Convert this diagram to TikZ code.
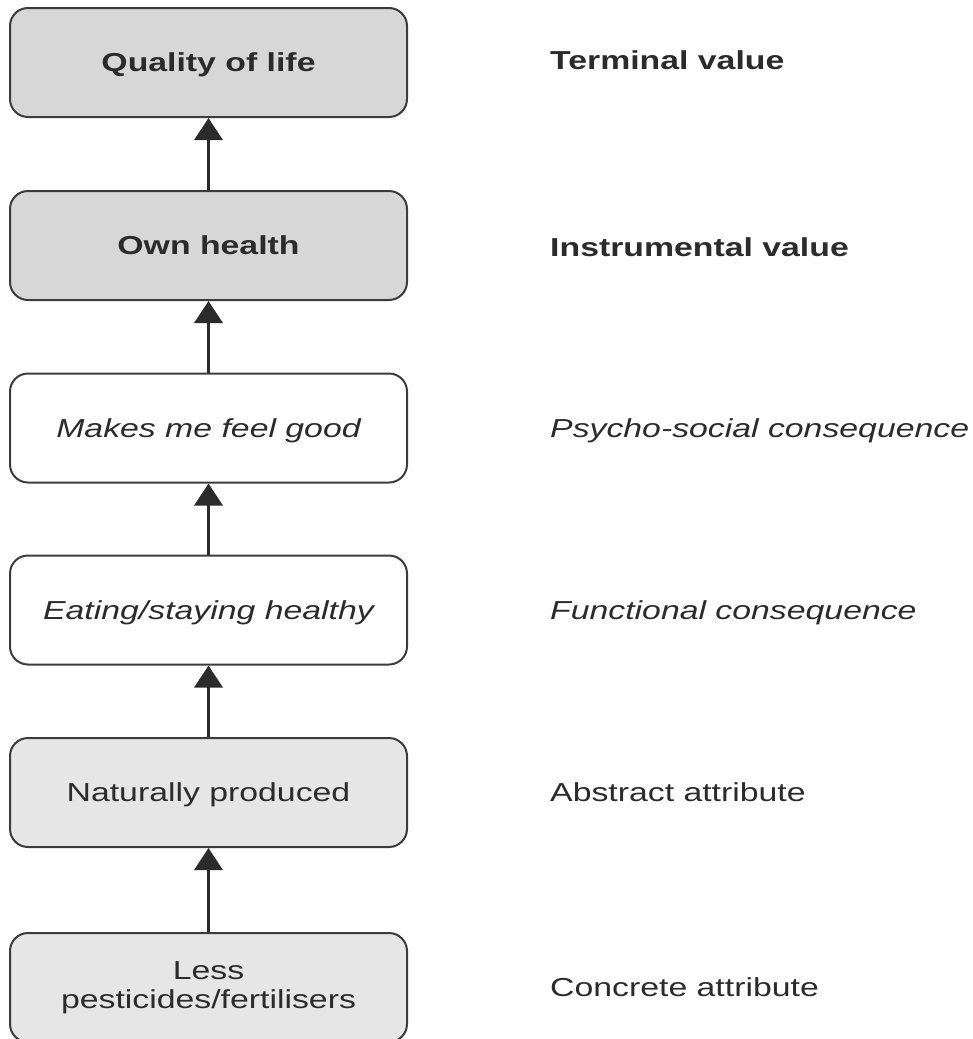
\documentclass[tikz,border=0pt]{standalone}
\usepackage{fontspec}
\usetikzlibrary{arrows.meta}
\newfontfamily\chainfont[FakeStretch=1.3]{Liberation Sans}
\definecolor{valuefill}{HTML}{D7D7D7}
\definecolor{attrfill}{HTML}{E6E6E6}
\definecolor{edgegray}{HTML}{3C3C3C}
\definecolor{inkgray}{HTML}{2B2B2B}
\tikzset{
  chainbox/.style={draw=edgegray, line width=2pt, rounded corners=18pt,
    minimum width=397pt, minimum height=109pt, inner sep=0pt,
    text=inkgray, font=\chainfont\fontsize{26}{29}\selectfont,
    align=center, text height=18.6pt, text depth=0pt},
  twoline/.style={text height=, text depth=},
  levellabel/.style={anchor=west, inner sep=0pt, text=inkgray,
    font=\chainfont\fontsize{26}{29}\selectfont,
    text height=18.6pt, text depth=0pt},
  uparrow/.style={draw=inkgray, line width=3.5pt,
    -{Triangle[width=28pt,length=22pt]}, shorten >=0pt}
}
\begin{document}
\begin{tikzpicture}[x=1pt,y=-1pt]
  \useasboundingbox (0,0) rectangle (973,1039);
  % ladder of means-end levels
  \node[chainbox, fill=valuefill] (b1) at (208.5,62.5) {\bfseries Quality of life};
  \node[chainbox, fill=valuefill] (b2) at (208.5,245.5) {\bfseries Own health};
  \node[chainbox, fill=white] (b3) at (208.5,428) {\itshape Makes me feel good};
  \node[chainbox, fill=white] (b4) at (208.5,610) {\itshape Eating/staying healthy};
  \node[chainbox, fill=attrfill] (b5) at (208.5,792.5) {Naturally produced};
  \node[chainbox, fill=attrfill, twoline] (b6) at (208.5,987.5) {Less\\pesticides/fertilisers};
  % upward links
  \draw[uparrow] (b6.north) -- (b5.south);
  \draw[uparrow] (b5.north) -- (b4.south);
  \draw[uparrow] (b4.north) -- (b3.south);
  \draw[uparrow] (b3.north) -- (b2.south);
  \draw[uparrow] (b2.north) -- (b1.south);
  % level names
  \coordinate (lx) at (550,0);
  \node[levellabel] (l1) at ([yshift=2pt]b1.center -| lx) {\bfseries Terminal value};
  \node[levellabel] (l2) at ([yshift=-2pt]b2.center -| lx) {\bfseries Instrumental value};
  \node[levellabel] (l3) at (b3.center -| lx) {\itshape Psycho-social consequence};
  \node[levellabel] (l4) at (b4.center -| lx) {\itshape Functional consequence};
  \node[levellabel] (l5) at (b5.center -| lx) {Abstract attribute};
  \node[levellabel] (l6) at (b6.center -| lx) {Concrete attribute};
\end{tikzpicture}
\end{document}
